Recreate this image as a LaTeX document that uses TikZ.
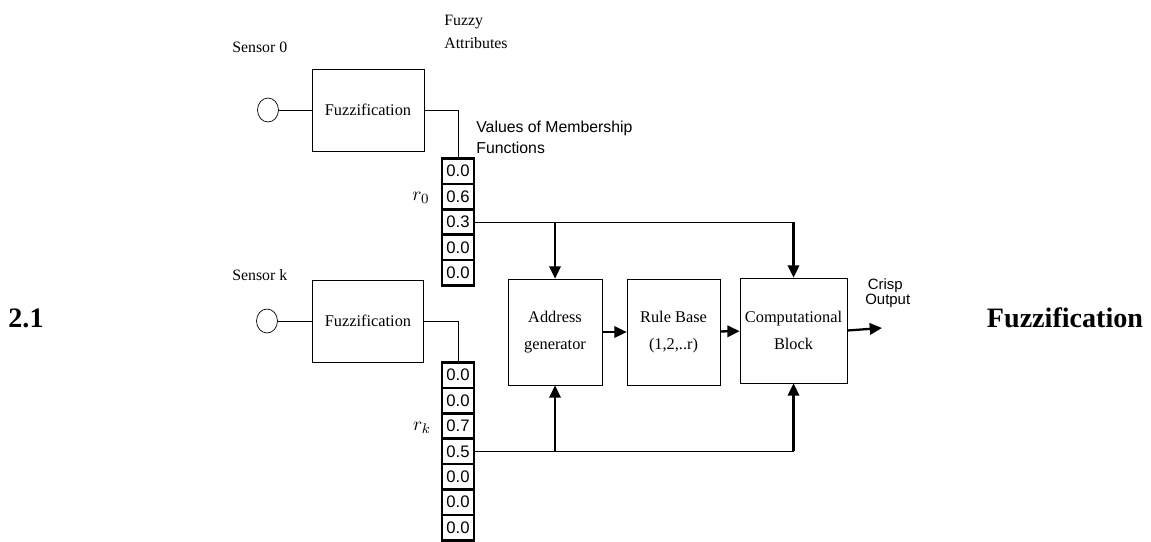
\documentclass[tikz,border=0pt]{standalone}
\usepackage{fontspec}
\setmainfont{Liberation Serif}
\setsansfont{Liberation Sans}
\usetikzlibrary{arrows.meta,shapes.geometric}
\tikzset{blocknode/.style={draw,thin,align=center,inner sep=1pt,font=\fontsize{9.3}{15}\selectfont},
cellnode/.style={draw,line width=1.4pt,minimum width=0.64cm,minimum height=0.508cm,inner sep=0pt,font=\sffamily\fontsize{9.5}{10}\selectfont},
sensornode/.style={draw,thin,ellipse,minimum width=0.42cm,minimum height=0.48cm,inner sep=0pt},
labelnode/.style={anchor=west,align=left,inner sep=0pt,font=\fontsize{9}{13.5}\selectfont},
arr/.style={line width=1.3pt,-{Triangle[length=7pt,width=6.5pt]}}}

\begin{document}
\begin{tikzpicture}[x=0.02cm,y=-0.02cm]
\useasboundingbox (0,0) rectangle (1151,541);

% labels
\node [labelnode] (s0lab) at (232,47) {Sensor 0};
\node [labelnode] (fzlab) at (444,32) {Fuzzy\\Attributes};
\node [labelnode, font=\sffamily\fontsize{9}{12}\selectfont] (vallab) at (476,137) {Values of Membership\\Functions};
\node [labelnode] (sklab) at (232,275) {Sensor k};
\node [labelnode, font=\sffamily\fontsize{8.5}{8.5}\selectfont] (outlab) at (865,293) {\,Crisp\\Output};
\node [font=\fontsize{11}{12}\selectfont] (r0) at (421,198) {$r_0$};
\node [font=\fontsize{11}{12}\selectfont] (rk) at (422,428) {$r_k$};
\node [font=\bfseries\fontsize{16}{18}\selectfont] (num) at (26,318) {2.1};
\node [font=\bfseries\fontsize{16}{18}\selectfont] (title) at (1065,318) {Fuzzification};

% sensors
\node [sensornode] (s0) at (268,110) {};
\node [sensornode] (sk) at (267,321) {};
\node [blocknode, minimum width=2.24cm, minimum height=1.64cm] (fz0) at (368,110) {Fuzzification};
\node [blocknode, minimum width=2.22cm, minimum height=1.64cm] (fzk) at (368,321) {Fuzzification};

% membership values
\node [cellnode] (z1) at (458,171.2) {0.0};
\node [cellnode] (z2) at (458,196.6) {0.6};
\node [cellnode] (z3) at (458,222) {0.3};
\node [cellnode] (z4) at (458,247.4) {0.0};
\node [cellnode] (z5) at (458,272.8) {0.0};

\node [cellnode] (k1) at (458,375.2) {0.0};
\node [cellnode] (k2) at (458,400.6) {0.0};
\node [cellnode] (k3) at (458,426) {0.7};
\node [cellnode] (k4) at (458,451.4) {0.5};
\node [cellnode] (k5) at (458,476.8) {0.0};
\node [cellnode] (k6) at (458,502.2) {0.0};
\node [cellnode] (k7) at (458,527.6) {0.0};

% blocks
\node [blocknode, minimum width=1.88cm, minimum height=2.12cm] (addr) at (555,332) {Address\\generator};
\node [blocknode, minimum width=1.86cm, minimum height=2.12cm] (rule) at (673.5,332) {Rule Base\\(1,2,..r)};
\node [blocknode, minimum width=2.14cm, minimum height=2.1cm] (comp) at (793.5,330.5) {Computational\\Block};
\coordinate (out) at (882,328);

% edges
\draw [thin] (s0) to (fz0);
\draw [thin] (sk) to (fzk);
\draw [thin] (fz0.east) -| (z1.north);
\draw [thin] (fzk.east) -| (k1.north);
\draw [thin] (z3.east) -- (z3.east -| comp.north);
\draw [thin] (k4.east) -- (k4.east -| comp.south);
\draw [arr] (z3.east -| addr.north) -- (addr.north);
\draw [arr] (z3.east -| comp.north) -- (comp.north);
\draw [arr] (k4.east -| addr.south) -- (addr.south);
\draw [arr] (k4.east -| comp.south) -- (comp.south);
\draw [arr] (addr) -- (rule);
\draw [arr] (rule) -- (comp);
\draw [arr] (comp.east) -- (out);
\end{tikzpicture}
\end{document}
